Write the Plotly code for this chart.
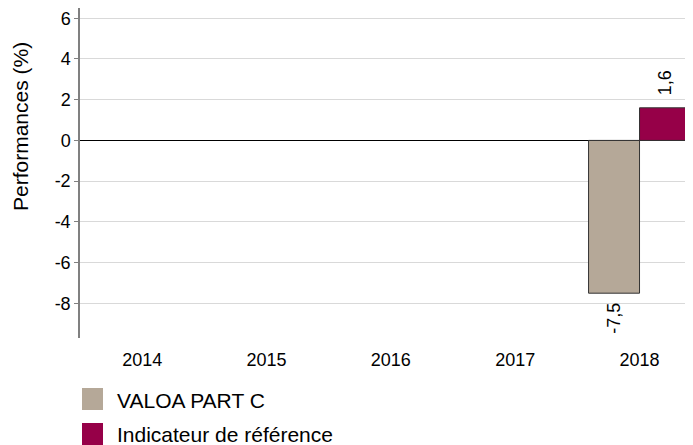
import plotly.graph_objects as go

years = ["2014", "2015", "2016", "2017", "2018"]
fund_values = [None, None, None, None, -7.5]
bench_values = [None, None, None, None, 1.6]
fund_name = "VALOA PART C"
bench_name = "Indicateur de référence"
fund_color = "#b5a898"
bench_color = "#960048"
font_family = "Liberation Sans, Arial, sans-serif"

# page body has an 8px margin: figure coords = screen coords - 8
OFF = 8
W, H = 693 - OFF, 445 - OFF
L, R, T, B = 80 - OFF, 0, 8 - OFF, 445 - 338
pw, ph = W - L - R, H - T - B
XRANGE = [-0.5, 4.43]
BARGAP = 0.18
px_per_cat = pw / (XRANGE[1] - XRANGE[0])
bar_shift = (1 - BARGAP) / 4 * px_per_cat


def fmt(v):
    return f"{v:.1f}".replace(".", ",")


def px_x(x):
    return (x - OFF - L) / pw


def px_y(y):
    return (H - B - (y - OFF)) / ph


fig = go.Figure()
annotations = []
for name, vals, col, sgn in [(fund_name, fund_values, fund_color, -1), (bench_name, bench_values, bench_color, 1)]:
    fig.add_trace(go.Bar(
        x=years, y=vals, name=name,
        marker=dict(color=col, line=dict(color="#333333", width=1)),
        showlegend=False,
    ))
    for i, v in enumerate(vals):
        if v is None:
            continue
        annotations.append(dict(
            text=fmt(v), x=i, y=v, xref="x", yref="y", showarrow=False,
            textangle=-90, xshift=sgn * bar_shift,
            yanchor="top" if v < 0 else "bottom",
            yshift=-8 if v < 0 else 10,
            font=dict(size=18, color="#000000", family=font_family),
        ))

shapes = []
for (name, col, y0, y1, ty) in [(fund_name, fund_color, 388, 410, 400), (bench_name, bench_color, 423, 445, 434)]:
    shapes.append(dict(type="rect", xref="paper", yref="paper",
                       x0=px_x(82), x1=px_x(103), y0=px_y(y1), y1=px_y(y0),
                       fillcolor=col, line=dict(width=0)))
    annotations.append(dict(text=name, xref="paper", yref="paper", x=px_x(115), y=px_y(ty),
                            xanchor="left", yanchor="middle", showarrow=False,
                            font=dict(size=21, color="#000000", family=font_family)))

annotations.append(dict(text="Performances (%)", xref="paper", yref="paper", x=px_x(20), y=px_y(127),
                        xanchor="center", yanchor="middle", textangle=-90, showarrow=False,
                        font=dict(size=21, color="#000000", family=font_family)))

fig.update_layout(
    width=W, height=H,
    margin=dict(l=L, r=R, t=T, b=B, autoexpand=False, pad=0),
    paper_bgcolor="white", plot_bgcolor="white",
    barmode="group", bargap=BARGAP, bargroupgap=0,
    separators=", ",
    font=dict(family=font_family, size=18, color="#000000"),
    shapes=shapes, annotations=annotations,
    xaxis=dict(range=XRANGE, showgrid=False, showline=False, zeroline=False,
               ticks="outside", ticklen=5, tickcolor="rgba(0,0,0,0)",
               tickfont=dict(size=18, family=font_family, color="#000000")),
    yaxis=dict(range=[-9.7, 6.5], tickvals=[-8, -6, -4, -2, 0, 2, 4, 6],
               ticktext=["-8", "-6", "-4", "-2", "0", "2", "4", "6"],
               showgrid=True, gridcolor="#d9d9d9", gridwidth=1,
               zeroline=True, zerolinecolor="#000000", zerolinewidth=1,
               showline=True, linecolor="#808080", linewidth=1.5,
               ticks="outside", ticklen=4, tickcolor="#808080",
               tickfont=dict(size=18, family=font_family, color="#000000")),
)

fig.write_html("out.html")
